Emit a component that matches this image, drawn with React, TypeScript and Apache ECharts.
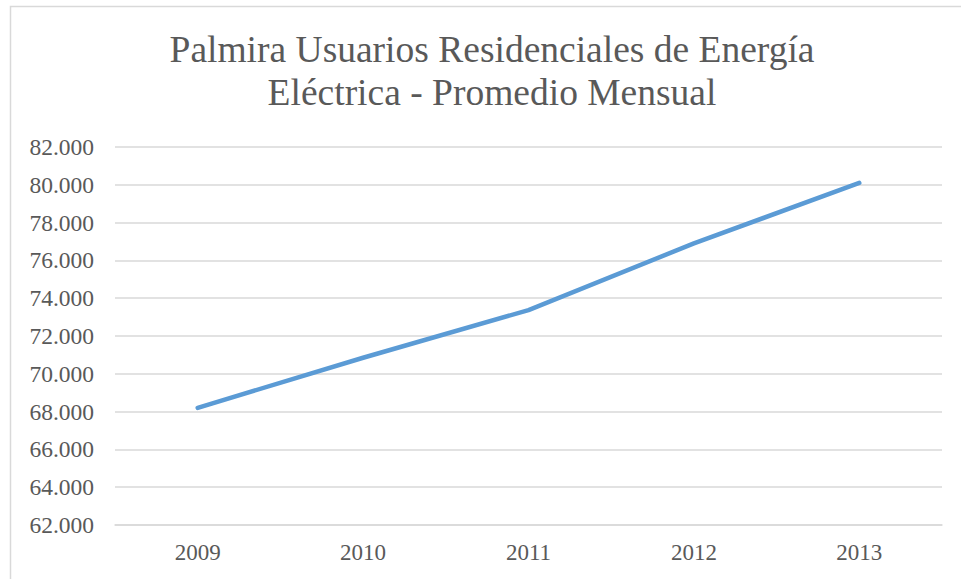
import React, { useEffect, useRef } from "react";
import * as echarts from "echarts";

const titleText = "Palmira Usuarios Residenciales de Energía\nEléctrica - Promedio Mensual";
const years = ["2009", "2010", "2011", "2012", "2013"];
const usuarios = [68200, 70850, 73370, 76900, 80100];
const yMin = 62000;
const yMax = 82000;
const yStep = 2000;

const fmt = (v: number) => {
  const s = Math.round(v).toString();
  return s.replace(/\B(?=(\d{3})+(?!\d))/g, ".");
};

export default function App() {
  const ref = useRef<HTMLDivElement>(null);
  useEffect(() => {
    if (!ref.current) return;
    const chart = echarts.init(ref.current, undefined, { renderer: "svg" });
    const font = "Liberation Serif";
    chart.setOption({
      animation: false,
      backgroundColor: "#ffffff",
      textStyle: { fontFamily: font },
      title: {
        text: titleText,
        left: 487,
        top: 23,
        textAlign: "center",
        textStyle: {
          fontFamily: font,
          fontSize: 37.5,
          fontWeight: "normal",
          color: "#595959",
          lineHeight: 43,
        },
      },
      graphic: [
        {
          type: "rect",
          shape: { x: 10.5, y: 6.5, width: 1000, height: 700 },
          style: { fill: "none", stroke: "#d9d9d9", lineWidth: 1.5 },
          silent: true,
        },
      ],
      grid: { left: 115, right: 19, top: 147, bottom: 54, containLabel: false },
      xAxis: {
        type: "category",
        data: years,
        boundaryGap: true,
        axisLine: { show: true, lineStyle: { color: "#d9d9d9", width: 1.5 } },
        axisTick: { show: false },
        axisLabel: { fontFamily: font, fontSize: 23, color: "#595959", margin: 16 },
      },
      yAxis: {
        type: "value",
        min: yMin,
        max: yMax,
        interval: yStep,
        axisLine: { show: false },
        axisTick: { show: false },
        splitLine: { lineStyle: { color: "#d9d9d9", width: 1.5 } },
        axisLabel: {
          fontFamily: font,
          fontSize: 23.5,
          color: "#595959",
          margin: 21,
          formatter: (v: number) => fmt(v),
        },
      },
      series: [
        {
          type: "line",
          data: usuarios,
          symbol: "none",
          lineStyle: { color: "#5b9bd5", width: 4.5, cap: "round", join: "round" },
        },
      ],
    });
    return () => chart.dispose();
  }, []);
  return (
    <div
      ref={ref}
      style={{ position: "absolute", left: 0, top: 0, width: 961, height: 579 }}
    />
  );
}
